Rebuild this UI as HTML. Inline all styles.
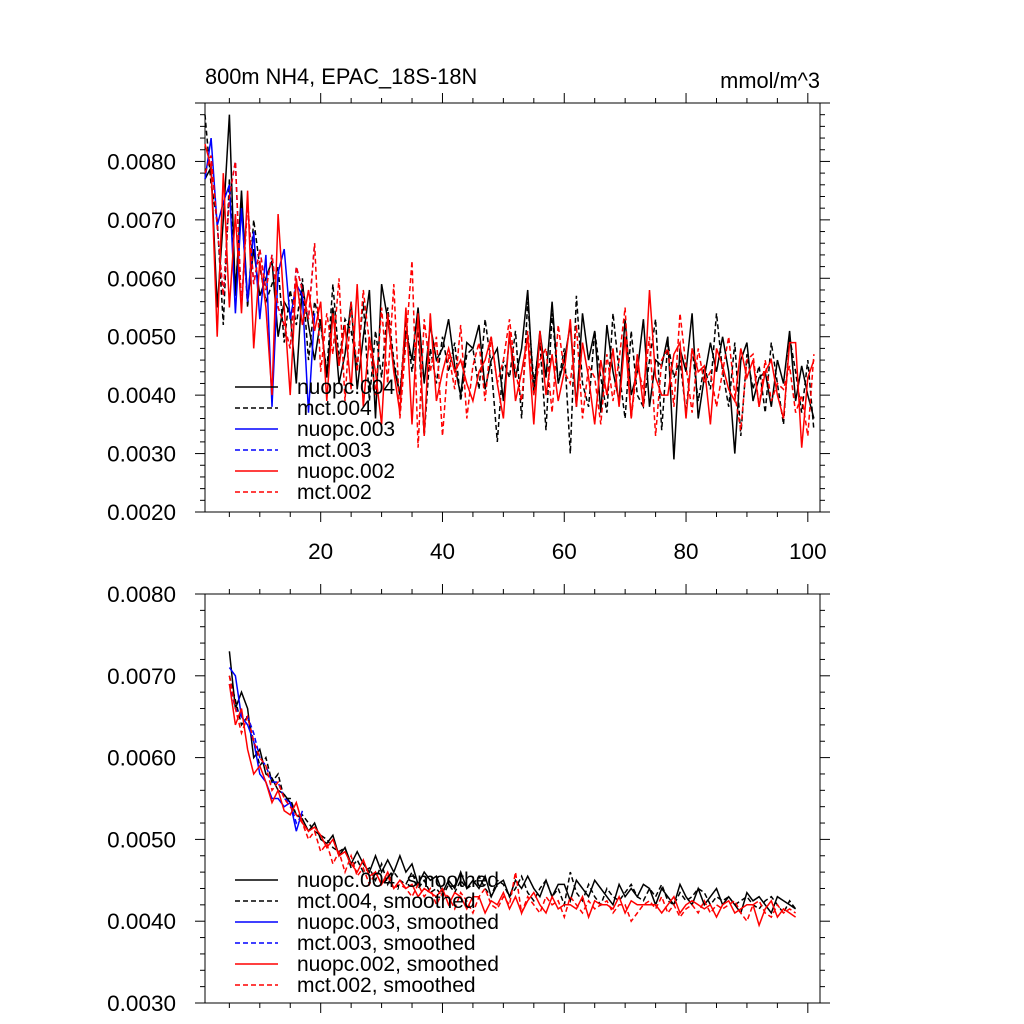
<!DOCTYPE html>
<html><head><meta charset="utf-8"><style>
html,body{margin:0;padding:0;background:#fff;}
svg{display:block;font-family:"Liberation Sans",sans-serif;}
</style></head><body>
<svg id="chart" width="1024" height="1024" xmlns="http://www.w3.org/2000/svg"></svg>
<script>
// ---- data (values in 0.001 mmol/m^3) ----
const topX0 = 1;
const nuopc004 = [7.7,7.9,5.5,7.0,8.8,5.7,7.5,5.6,6.5,5.7,6.0,6.3,5.0,5.6,5.4,4.2,5.9,5.2,4.6,5.3,4.3,5.5,4.2,4.7,5.6,4.1,5.0,5.8,3.6,5.9,5.3,4.5,4.0,5.1,4.6,5.5,4.2,5.2,4.6,4.8,5.3,4.5,4.0,4.9,4.8,5.2,4.1,4.6,4.8,3.9,5.0,4.3,4.8,5.8,4.0,5.1,4.3,5.6,4.2,4.6,5.2,3.8,5.4,4.6,5.1,3.7,5.2,4.4,3.9,5.3,4.0,4.4,5.3,3.8,4.6,4.5,5.0,2.9,4.8,4.4,5.4,3.6,4.3,4.9,4.4,5.0,4.4,3.0,4.6,4.9,3.9,4.3,4.4,3.8,4.6,4.2,5.1,3.9,4.5,4.0,3.6];
const mct004 = [8.8,7.6,7.0,5.2,7.7,5.8,7.3,5.5,7.0,6.2,5.6,5.9,6.2,4.9,5.8,5.2,6.0,4.6,5.6,5.2,4.4,5.9,4.6,5.3,5.1,4.5,5.6,3.9,5.1,4.3,5.5,4.6,4.0,5.3,4.4,5.1,3.3,4.8,4.2,5.0,4.4,4.9,3.9,4.7,4.8,4.1,5.3,4.5,3.2,4.6,4.3,5.1,3.6,5.6,4.2,4.9,3.4,5.4,4.2,4.8,3.0,5.7,4.2,3.8,5.1,4.3,3.7,5.4,4.4,3.6,5.1,4.0,3.8,4.6,5.3,3.4,4.9,4.3,4.6,3.7,4.8,3.9,4.5,4.1,5.4,4.4,3.8,4.9,3.3,4.7,4.1,4.5,3.7,4.9,4.2,3.5,5.0,4.4,3.7,4.6,3.4];
const nuopc003 = [7.7,8.4,6.9,7.3,7.6,5.4,7.2,5.6,6.8,5.3,6.4,3.8,6.1,6.5,5.3,5.9,5.7,3.7,5.4];
const mct003 = [7.8,8.1,6.9,5.7,7.4,8.0,5.5,7.3,5.9,6.5,5.8,6.4,5.5,5.2,4.8,6.2,5.8,5.3,6.6];
const nuopc002 = [8.3,7.9,5.0,7.8,5.5,7.1,5.4,7.5,4.8,6.3,5.5,4.0,7.1,5.5,4.0,6.0,5.2,5.8,5.1,5.6,3.9,5.4,4.5,5.2,4.1,5.9,3.8,5.0,4.4,3.5,5.4,4.4,3.7,5.5,3.5,5.4,3.3,5.4,3.9,4.4,4.8,4.4,4.6,4.2,3.9,4.4,4.6,5.0,4.2,3.6,5.1,3.9,4.4,5.0,3.5,5.1,4.0,4.7,3.9,4.4,5.3,3.8,4.9,4.3,3.5,4.6,4.0,4.8,3.8,5.0,3.6,4.7,3.8,5.8,4.3,4.0,4.0,4.7,4.9,3.6,4.8,4.4,4.5,3.5,4.8,4.5,4.1,3.9,4.8,4.3,4.6,3.8,4.4,4.6,4.0,3.6,4.9,4.9,3.1,4.3,4.6];
const mct002 = [7.8,8.1,6.9,5.7,7.4,8.0,5.5,7.3,5.9,6.5,5.8,6.4,5.5,5.2,4.8,6.2,5.8,5.3,6.6,4.4,5.4,4.7,6.0,3.9,5.6,4.4,5.8,4.9,4.0,5.5,4.2,5.9,3.6,4.9,6.3,3.1,5.3,4.4,5.0,3.3,4.7,4.1,5.2,3.6,4.5,4.9,3.9,5.0,4.2,4.6,5.3,4.4,3.9,5.1,4.0,4.6,4.8,3.7,5.2,4.4,4.2,5.2,3.6,4.5,4.3,3.5,4.7,3.9,4.6,5.5,3.6,4.5,4.1,5.0,3.3,4.6,4.8,3.8,5.4,4.5,3.7,4.8,4.2,4.4,3.8,4.4,5.0,4.0,3.4,4.6,4.7,3.8,4.6,3.9,4.2,4.1,4.5,3.7,4.0,3.3,4.7];

const botX0 = 5;
const nuopc004s = [7.3,6.6,6.8,6.6,6.0,6.1,5.8,5.75,5.6,5.55,5.45,5.3,5.25,5.1,5.2,5.0,4.95,5.05,4.8,4.9,4.7,4.85,4.7,4.6,4.8,4.6,4.75,4.6,4.8,4.6,4.7,4.45,4.6,4.5,4.55,4.35,4.5,4.4,4.6,4.4,4.5,4.4,4.55,4.3,4.45,4.5,4.3,4.5,4.4,4.55,4.4,4.3,4.5,4.3,4.45,4.45,4.25,4.5,4.4,4.3,4.5,4.4,4.3,4.2,4.45,4.3,4.4,4.3,4.45,4.4,4.2,4.4,4.3,4.2,4.45,4.3,4.2,4.4,4.2,4.3,4.4,4.2,4.3,4.2,4.1,4.35,4.25,4.3,4.2,4.1,4.3,4.25,4.2,4.15];
const mct004s = [7.0,6.7,6.4,6.5,6.2,5.9,6.0,5.7,5.8,5.5,5.5,5.3,5.3,5.2,5.1,5.05,5.0,4.9,4.85,4.9,4.65,4.75,4.6,4.65,4.5,4.7,4.45,4.6,4.5,4.45,4.6,4.4,4.5,4.35,4.4,4.3,4.45,4.35,4.5,4.4,4.45,4.55,4.4,4.3,4.5,4.45,4.3,4.4,4.55,4.35,4.25,4.4,4.5,4.3,4.4,4.2,4.6,4.35,4.25,4.45,4.3,4.2,4.4,4.3,4.25,4.35,4.45,4.3,4.25,4.4,4.3,4.45,4.25,4.2,4.35,4.25,4.3,4.4,4.35,4.2,4.3,4.25,4.3,4.2,4.25,4.3,4.2,4.15,4.25,4.3,4.2,4.1,4.25,4.15];
const nuopc003s = [7.1,7.0,6.5,6.4,6.2,5.8,5.7,5.5,5.5,5.4,5.45,5.1,5.35];
const mct003s = [6.9,6.6,6.5,6.5,6.3,6.0,5.9,5.7,5.7,5.5,5.45,5.2,5.3];
const nuopc002s = [6.9,6.4,6.6,6.1,5.8,5.9,5.7,5.45,5.6,5.35,5.3,5.45,5.2,5.1,5.15,5.05,4.9,5.0,4.8,4.85,4.7,4.6,4.75,4.55,4.6,4.45,4.6,4.4,4.5,4.4,4.45,4.3,4.4,4.35,4.3,4.4,4.2,4.35,4.3,4.15,4.3,4.3,4.1,4.25,4.2,4.35,4.15,4.3,4.1,4.25,4.35,4.2,4.1,4.3,4.15,4.2,4.2,4.15,4.3,4.05,4.25,4.2,4.2,4.15,4.3,4.1,4.25,4.2,4.2,4.2,4.2,4.1,4.2,4.3,4.1,4.2,4.25,4.2,4.15,4.2,4.05,4.2,4.25,4.1,4.15,4.2,4.2,3.95,4.15,4.25,4.05,4.15,4.1,4.05];
const mct002s = [7.0,6.6,6.3,6.5,6.2,6.0,5.9,5.6,5.7,5.5,5.4,5.3,5.2,5.0,5.1,4.85,4.95,4.7,4.85,4.6,4.8,4.55,4.65,4.45,4.6,4.45,4.55,4.4,4.45,4.4,4.3,4.45,4.3,4.4,4.2,4.35,4.3,4.15,4.35,4.25,4.1,4.3,4.4,4.2,4.15,4.3,4.2,4.6,4.1,4.3,4.2,4.1,4.3,4.2,4.25,4.05,4.3,4.2,4.1,4.25,4.15,4.2,4.25,4.1,4.2,4.2,4.0,4.1,4.2,4.25,4.15,4.3,4.1,4.2,4.05,4.15,4.2,4.1,4.25,4.1,4.2,4.15,4.2,4.25,4.1,4.0,4.2,4.25,4.1,4.05,4.2,4.1,4.15,4.1];

const topYTicks = [0.0020,0.0030,0.0040,0.0050,0.0060,0.0070,0.0080];
const botYTicks = [0.0030,0.0040,0.0050,0.0060,0.0070,0.0080];
const xTickLabels = [20,40,60,80,100];

// ---- layout ----
const NS = "http://www.w3.org/2000/svg";
const svg = document.getElementById('chart');
function mk(tag, attrs, parent){ const e=document.createElementNS(NS,tag); for(const k in attrs) e.setAttribute(k,attrs[k]); (parent||svg).appendChild(e); return e; }

const X0=205, X1=820;
const xMin=1, xMax=102;
function xs(v){ return X0+(v-xMin)/(xMax-xMin)*(X1-X0); }

const panels=[
 {name:'top', top:103, bottom:512, yMin:2.0, yMax:9.0, ticks:topYTicks, minor:0.2, labels:true},
 {name:'bottom', top:594, bottom:1003, yMin:3.0, yMax:8.0, ticks:botYTicks, minor:0.2, labels:false}
];
panels.forEach(p=>{ p.ys=v=>p.bottom-(v-p.yMin)/(p.yMax-p.yMin)*(p.bottom-p.top); });

function drawPanel(p){
  const g=mk('g',{});
  
  
  const fr=mk('rect',{x:X0,y:p.top,width:X1-X0,height:p.bottom-p.top,fill:'none',stroke:'#000','stroke-width':1},g);
  
  
  for(let v=5; v<=100; v+=5){
    const major=v%20===0, L=major?10:5, x=xs(v);
    mk('line',{x1:x,x2:x,y1:p.bottom,y2:p.bottom+L,stroke:'#000'},g);
    mk('line',{x1:x,x2:x,y1:p.top,y2:p.top-L,stroke:'#000'},g);
  }
  for(let v=p.yMin; v<=p.yMax+1e-6; v+=p.minor){
    const major=Math.abs(v-Math.round(v))<1e-6, L=major?10:5, y=p.ys(v);
    mk('line',{x1:X0,x2:X0-L,y1:y,y2:y,stroke:'#000'},g);
    mk('line',{x1:X1,x2:X1+L,y1:y,y2:y,stroke:'#000'},g);
  }
  p.ticks.forEach(t=>{
    const tx=mk('text',{x:176,y:p.ys(t*1000)+8,'text-anchor':'end','font-size':22.5},g);
    
    
    tx.textContent=t.toFixed(4);
  });
  if(p.labels){
    xTickLabels.forEach(t=>{
      const tx=mk('text',{x:xs(t),y:559,'text-anchor':'middle','font-size':22.5},g);
      
      
      tx.textContent=t;
    });
  }
}
panels.forEach(drawPanel);

function series(p, arr, x0, color, dash, name){
  const pts=arr.map((v,i)=>xs(x0+i).toFixed(1)+','+p.ys(v).toFixed(1)).join(' ');
  const pl=mk('polyline',{points:pts,fill:'none',stroke:color,'stroke-width':1.5,'stroke-dasharray':dash?'5,3':'none'});
  
  
}
const T=panels[0], B=panels[1];
series(T,nuopc004,topX0,'#000',false,'nuopc004-line');
series(T,mct004,topX0,'#000',true,'mct004-line');
series(T,nuopc003,topX0,'#00f',false,'nuopc003-line');
series(T,mct003,topX0,'#00f',true,'mct003-line');
series(T,nuopc002,topX0,'#f00',false,'nuopc002-line');
series(T,mct002,topX0,'#f00',true,'mct002-line');
series(B,nuopc004s,botX0,'#000',false,'nuopc004-smoothed-line');
series(B,mct004s,botX0,'#000',true,'mct004-smoothed-line');
series(B,nuopc003s,botX0,'#00f',false,'nuopc003-smoothed-line');
series(B,mct003s,botX0,'#00f',true,'mct003-smoothed-line');
series(B,nuopc002s,botX0,'#f00',false,'nuopc002-smoothed-line');
series(B,mct002s,botX0,'#f00',true,'mct002-smoothed-line');

const legNames=['nuopc.004','mct.004','nuopc.003','mct.003','nuopc.002','mct.002'];
const legColors=['#000','#000','#00f','#00f','#f00','#f00'];
function legend(y0, suffix){
  legNames.forEach((n,i)=>{
    const y=y0+i*21;
    const ln=mk('line',{x1:235,x2:278,y1:y,y2:y,stroke:legColors[i],'stroke-width':1.5,'stroke-dasharray':i%2?'5,3':'none'});
    
    
    const t=mk('text',{x:297,y:y+7,'font-size':21});
    
    
    t.textContent=n+suffix;
  });
}
legend(387,'');
legend(880,', smoothed');

const title=mk('text',{x:205,y:84,'font-size':21.8});


title.textContent='800m NH4, EPAC_18S-18N';
const units=mk('text',{x:820,y:88,'font-size':21.8,'text-anchor':'end'});


units.textContent='mmol/m^3';
</script>
</body></html>
